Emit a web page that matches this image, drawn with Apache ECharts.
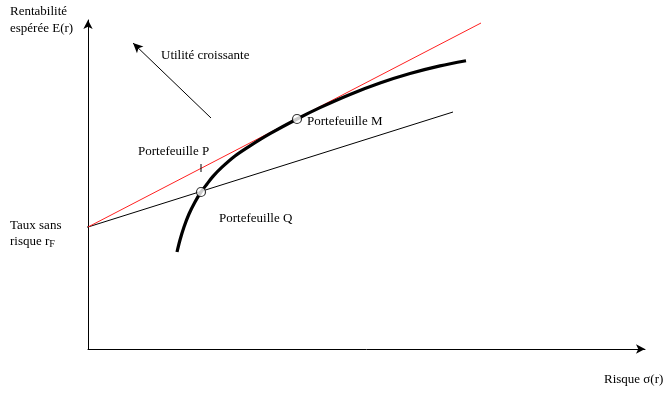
<!DOCTYPE html>
<html><head><meta charset="utf-8">
<script src="https://cdn.jsdelivr.net/npm/echarts@6/dist/echarts.min.js"></script>
<style>html,body{margin:0;padding:0;background:#fff}#c{width:669px;height:393px}</style>
</head><body><div id="c"></div>
<script>
// Data (x = risk, y = expected return), arbitrary units
const riskFree = [0, 122];
const cmlEnd = [393, 326];            // red capital market line end
const qLineEnd = [365, 237];          // line through portfolio Q end
const portfolioM = [209, 230];
const portfolioQ = [113, 157];
const frontierX = [89, 92, 96, 101, 107, 113, 119, 125, 134, 147, 162, 182, 209, 232, 262, 292, 322, 352, 378];
const frontierY = [97, 109, 122, 135, 147, 157, 165, 172.6, 181.8, 193, 203.1, 215.3, 230, 241.4, 254.6, 266, 275.5, 283.1, 288.3];
const pTick = [[113, 177], [113, 185]];
const rfTick = [[-8, 122], [0, 122]];
const utilityArrow = [[123, 231], [45, 306]];

const chart = echarts.init(document.getElementById('c'));
const font = '"Liberation Serif", "Times New Roman", serif';
const txt = (x, y, text, extra) => Object.assign({
  type: 'text', left: x, top: y,
  style: { text: text, font: '13px ' + font, fill: '#000' }
}, extra || {});

chart.setOption({
  animation: false,
  grid: { left: 88, right: 24, top: 20, bottom: 44 },
  xAxis: {
    type: 'value', min: 0, max: 557,
    axisLine: { lineStyle: { color: '#000', width: 1 }, symbol: ['none', 'arrow'], symbolSize: [7, 9] },
    axisTick: { show: false }, axisLabel: { show: false }, splitLine: { show: false }
  },
  yAxis: {
    type: 'value', min: 0, max: 329,
    axisLine: { lineStyle: { color: '#000', width: 1 }, symbol: ['none', 'arrow'], symbolSize: [7, 9] },
    axisTick: { show: false }, axisLabel: { show: false }, splitLine: { show: false }
  },
  series: [
    { type: 'line', data: [riskFree, qLineEnd], symbol: 'none',
      lineStyle: { color: '#000', width: 1 }, z: 2 },
    { type: 'line', data: [riskFree, cmlEnd], symbol: 'none',
      lineStyle: { color: '#ff2020', width: 1 }, z: 3 },
    { type: 'line', data: frontierX.map((x, i) => [x, frontierY[i]]), symbol: 'none',
      smooth: 0.3,
      lineStyle: { color: '#000', width: 3.2, cap: 'butt', join: 'round' }, z: 4 },
    { type: 'line', data: pTick, symbol: 'none', lineStyle: { color: '#000', width: 1 }, z: 4 },
    { type: 'line', data: rfTick, symbol: 'none', clip: false, lineStyle: { color: '#000', width: 1 }, z: 4 },
    { type: 'line', data: [], markLine: {
        silent: true, symbol: ['none', 'arrow'], symbolSize: [7, 10],
        lineStyle: { color: '#000', width: 1, type: 'solid' }, label: { show: false },
        data: [[{ coord: utilityArrow[0] }, { coord: utilityArrow[1] }]]
      } },
    { type: 'scatter', data: [portfolioM, portfolioQ], symbol: 'circle', symbolSize: 9,
      itemStyle: { color: '#fff', borderColor: '#000', borderWidth: 1.2 }, z: 6 }
  ],
  graphic: [
    txt(10, 5, 'Rentabilité'),
    txt(10, 22, 'espérée E(r)'),
    txt(161, 49, 'Utilité croissante'),
    txt(307, 115, 'Portefeuille M'),
    txt(138, 145, 'Portefeuille P'),
    txt(219, 212, 'Portefeuille Q'),
    txt(10, 219, 'Taux sans'),
    { type: 'text', left: 10, top: 235, style: {
        text: '{a|risque r}{b|F}', font: '13px ' + font, fill: '#000',
        rich: { a: { font: '13px ' + font, fill: '#000' },
                b: { font: '10px ' + font, fill: '#000', padding: [5, 0, 0, 0] } } } },
    txt(604, 373, 'Risque σ(r)')
  ]
});
</script></body></html>
